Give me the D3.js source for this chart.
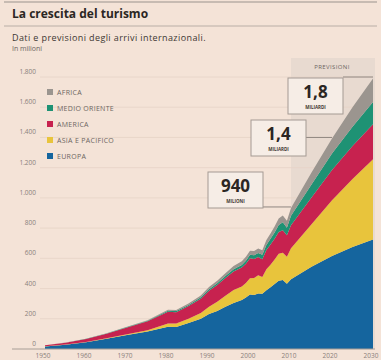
<!DOCTYPE html>
<html>
<head>
<meta charset="utf-8">
<script src="https://cdn.jsdelivr.net/npm/d3@7/dist/d3.min.js"></script>
<style>
  body { margin: 0; background: #f4e3d7; }
  svg { display: block; font-family: "Open Sans", "DejaVu Sans", sans-serif; }
</style>
</head>
<body>
<div id="chart"></div>
<script>
// arrivi internazionali, milioni (dati + previsioni)
var years    = [1950, 1955, 1960, 1965, 1970, 1975, 1980, 1982, 1985, 1988, 1990, 1992, 1994, 1996, 1998, 1999, 2000, 2001, 2002, 2003, 2004, 2005, 2006, 2007, 2008, 2009, 2010, 2015, 2020, 2025, 2030];
var europa   = [17, 28, 45, 68, 92, 115, 148, 146, 172, 200, 232, 252, 280, 305, 325, 340, 360, 358, 368, 366, 388, 408, 430, 452, 456, 432, 462, 545, 615, 675, 725];
var asia     = [0.5, 1, 1.5, 3, 6, 9, 20, 22, 28, 38, 48, 60, 72, 86, 88, 96, 108, 112, 120, 110, 140, 150, 163, 178, 181, 178, 204, 280, 370, 450, 530];
var america  = [7, 12, 20, 30, 45, 60, 78, 76, 84, 95, 106, 112, 118, 122, 126, 128, 132, 125, 120, 118, 127, 134, 137, 145, 149, 142, 153, 178, 200, 218, 232];
var medioOr  = [0.2, 0.4, 0.6, 1.2, 2, 3, 7, 7, 8, 9, 10, 11, 13, 15, 17, 20, 24, 25, 28, 30, 34, 37, 41, 46, 52, 50, 62, 85, 108, 128, 148];
var africa   = [0.5, 0.8, 0.8, 1.5, 2.5, 4, 7, 7, 9, 12, 14, 17, 19, 21, 24, 26, 27, 28, 29, 30, 33, 35, 39, 43, 45, 46, 52, 80, 100, 128, 155];

var yTicks = [0, 200, 400, 600, 800, 1000, 1200, 1400, 1600, 1800];
var xTicks = [1950, 1960, 1970, 1980, 1990, 2000, 2010, 2020, 2030];

var regions = [
  { key: "europa",  label: "EUROPA",          color: "#15659e", values: europa },
  { key: "asia",    label: "ASIA E PACIFICO", color: "#e8c43c", values: asia },
  { key: "america", label: "AMERICA",         color: "#c7224f", values: america },
  { key: "medio",   label: "MEDIO ORIENTE",   color: "#1e9274", values: medioOr },
  { key: "africa",  label: "AFRICA",          color: "#9b958f", values: africa }
];

var callouts = [
  { year: 2010, value: 940,  big: "940", small: "MILIONI",  x0: 208, y0: 172 },
  { year: 2020, value: 1400, big: "1,4", small: "MILIARDI", x0: 251, y0: 120 },
  { year: 2030, value: 1800, big: "1,8", small: "MILIARDI", x0: 288, y0: 78 }
];

var width = 381, height = 360;

var svg = d3.select("#chart").append("svg")
  .attr("width", width)
  .attr("height", height);

svg.append("rect").attr("width", width).attr("height", height).attr("fill", "#f4e3d7");

var x = d3.scaleLinear().domain([1950, 2030]).range([45, 373]);
var y = d3.scaleLinear().domain([0, 1800]).range([349, 77]);

// header
svg.append("line").attr("x1", 4).attr("x2", 377).attr("y1", 2).attr("y2", 2)
  .attr("stroke", "#b9aea6").attr("stroke-width", 1.5);
svg.append("text").attr("x", 12).attr("y", 18)
  .attr("font-size", 12).attr("font-weight", "bold").attr("fill", "#2b2623")
  .text("La crescita del turismo");
svg.append("line").attr("x1", 4).attr("x2", 377).attr("y1", 26).attr("y2", 26)
  .attr("stroke", "#b9aea6").attr("stroke-width", 1);
svg.append("text").attr("x", 12).attr("y", 41)
  .attr("font-size", 9).attr("fill", "#3d3733").attr("letter-spacing", 0.4)
  .text("Dati e previsioni degli arrivi internazionali.");
svg.append("text").attr("x", 12).attr("y", 51)
  .attr("font-size", 7).attr("fill", "#6d655f")
  .text("In milioni");

// forecast band
svg.append("rect")
  .attr("x", x(2010)).attr("y", 58)
  .attr("width", x(2030) - x(2010) + 2).attr("height", y(0) - 58)
  .attr("fill", "#e8dad0");
svg.append("text")
  .attr("x", (x(2010) + x(2030)) / 2).attr("y", 69)
  .attr("text-anchor", "middle").attr("font-size", 6).attr("fill", "#6d655f")
  .attr("letter-spacing", 0.4)
  .text("PREVISIONI");

// grid + y labels
var yAxis = svg.append("g");
yAxis.selectAll("line").data(yTicks).enter().append("line")
  .attr("x1", 40).attr("x2", 373)
  .attr("y1", function (d) { return y(d); })
  .attr("y2", function (d) { return y(d); })
  .attr("stroke", "#e6d3c6").attr("stroke-width", 0.8);
yAxis.selectAll("text").data(yTicks).enter().append("text")
  .attr("x", 36)
  .attr("y", function (d) { return y(d) - 3; })
  .attr("text-anchor", "end").attr("font-size", 6.5).attr("fill", "#8a817b")
  .text(function (d) { return d3.format(",")(d).replace(/,/g, "."); });

// stacked areas
var table = years.map(function (yr, i) {
  var row = { year: yr };
  regions.forEach(function (r) { row[r.key] = r.values[i]; });
  return row;
});
var stack = d3.stack().keys(regions.map(function (r) { return r.key; }));
var series = stack(table);

var area = d3.area()
  .x(function (d) { return x(d.data.year); })
  .y0(function (d) { return y(d[0]); })
  .y1(function (d) { return y(d[1]); });

svg.append("g").selectAll("path").data(series).enter().append("path")
  .attr("d", area)
  .attr("fill", function (d, i) { return regions[i].color; });

// baseline
svg.append("line").attr("x1", 12).attr("x2", 375).attr("y1", y(0)).attr("y2", y(0))
  .attr("stroke", "#a89e96").attr("stroke-width", 1);

// x labels
svg.append("g").selectAll("text").data(xTicks).enter().append("text")
  .attr("x", function (d) { return x(d) - 2; })
  .attr("y", 358)
  .attr("text-anchor", "middle").attr("font-size", 6.5).attr("fill", "#8a817b")
  .text(function (d) { return d; });

// legend
var legend = svg.append("g").selectAll("g")
  .data(regions.slice().reverse()).enter().append("g")
  .attr("transform", function (d, i) { return "translate(47," + (89 + i * 16) + ")"; });
legend.append("rect").attr("width", 6).attr("height", 6)
  .attr("fill", function (d) { return d.color; });
legend.append("text").attr("x", 10).attr("y", 6)
  .attr("font-size", 7).attr("fill", "#6d655f").attr("letter-spacing", 0.3)
  .text(function (d) { return d.label; });

// callouts
var bw = 55, bh = 36;
var co = svg.append("g").selectAll("g").data(callouts).enter().append("g");
co.append("line")
  .attr("x1", function (d) { return d.x0 + bw; })
  .attr("x2", function (d) { return x(d.year); })
  .attr("y1", function (d) { return y(d.value); })
  .attr("y2", function (d) { return y(d.value); })
  .attr("stroke", "#8f8680").attr("stroke-width", 1);
co.append("rect")
  .attr("x", function (d) { return d.x0; })
  .attr("y", function (d) { return d.y0; })
  .attr("width", bw).attr("height", bh)
  .attr("fill", "#f6ede6").attr("stroke", "#a49a93").attr("stroke-width", 1);
co.append("text")
  .attr("x", function (d) { return d.x0 + bw / 2; })
  .attr("y", function (d) { return d.y0 + 20; })
  .attr("text-anchor", "middle").attr("font-size", 17).attr("font-weight", "bold")
  .attr("fill", "#2b2623")
  .text(function (d) { return d.big; });
co.append("text")
  .attr("x", function (d) { return d.x0 + bw / 2; })
  .attr("y", function (d) { return d.y0 + 31; })
  .attr("text-anchor", "middle").attr("font-size", 4.5).attr("font-weight", "bold")
  .attr("fill", "#3d3733")
  .text(function (d) { return d.small; });
</script>
</body>
</html>
